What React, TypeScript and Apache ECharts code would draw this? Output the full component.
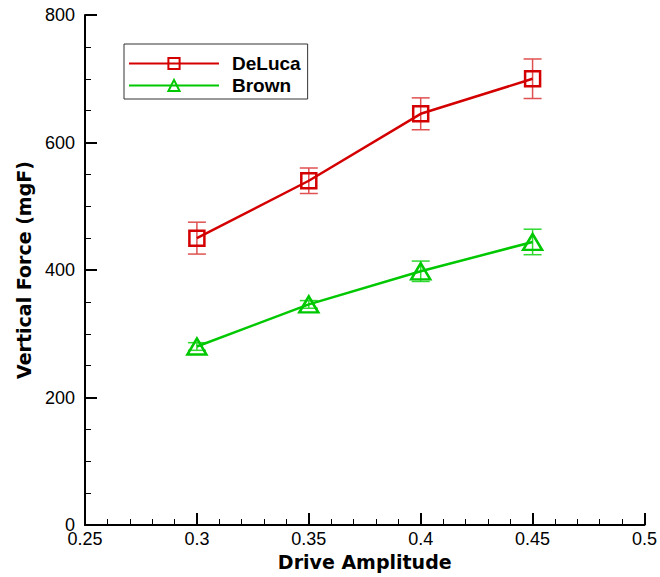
import React, { useEffect, useRef } from "react";
import * as echarts from "echarts";

const amplitudes = [0.3, 0.35, 0.4, 0.45];
const delucaForce = [450, 540, 645, 700];
const delucaErr = [25, 20, 25, 31];
const brownForce = [280, 346, 398, 444];
const brownErr = [6, 6, 16, 20];

const RED = "#d40000";
const GREEN = "#00c800";
const RED_ERR = "#e05050";
const GREEN_ERR = "#30d830";

const FONT = "'Liberation Sans', Arial, Helvetica, sans-serif";
const TITLE_FONT = "'DejaVu Sans', 'Liberation Sans', Arial, sans-serif";

function errData(vals: number[], errs: number[]) {
  return amplitudes.map((x, i) => [x, vals[i] - errs[i], vals[i] + errs[i]]);
}

function errSeries(name: string, vals: number[], errs: number[], color: string) {
  return {
    type: "custom",
    name,
    data: errData(vals, errs),
    z: 1,
    renderItem: (params: any, api: any) => {
      const x = api.value(0);
      const lo = api.coord([x, api.value(1)]);
      const hi = api.coord([x, api.value(2)]);
      const hw = 9;
      const style = { stroke: color, lineWidth: 1.5 };
      return {
        type: "group",
        children: [
          { type: "line", shape: { x1: lo[0], y1: lo[1], x2: hi[0], y2: hi[1] }, style },
          { type: "line", shape: { x1: lo[0] - hw, y1: lo[1], x2: lo[0] + hw, y2: lo[1] }, style },
          { type: "line", shape: { x1: hi[0] - hw, y1: hi[1], x2: hi[0] + hw, y2: hi[1] }, style },
        ],
      };
    },
  };
}

export default function App() {
  const ref = useRef<HTMLDivElement>(null);
  useEffect(() => {
    document.body.style.margin = "0";
    const chart = echarts.init(ref.current!, null, { renderer: "svg" });
    chart.setOption({
      animation: false,
      backgroundColor: "#ffffff",
      textStyle: { fontFamily: FONT },
      grid: { left: 85, right: 14, top: 15, bottom: 52 },
      legend: {
        data: ["DeLuca", "Brown"],
        orient: "vertical",
        left: 124,
        top: 44,
        itemWidth: 90,
        itemHeight: 14,
        itemGap: 3,
        padding: [10, 7, 4, 4],
        borderColor: "#333333",
        borderWidth: 1,
        textStyle: { fontFamily: FONT, fontWeight: "bold", fontSize: 19, color: "#000", padding: [0, 0, 0, 8] },
      },
      xAxis: {
        type: "value",
        min: 0.25,
        max: 0.5,
        interval: 0.05,
        name: "Drive Amplitude",
        nameLocation: "middle",
        nameGap: 27,
        nameTextStyle: { fontFamily: TITLE_FONT, fontWeight: "bold", fontSize: 19, color: "#000" },
        axisLine: { show: true, onZero: false, lineStyle: { color: "#000", width: 2 } },
        axisTick: { show: true, inside: true, length: 12, lineStyle: { color: "#000", width: 2 } },
        minorTick: { show: true, splitNumber: 5, length: 6, lineStyle: { color: "#000", width: 1 } },
        splitLine: { show: false },
        axisLabel: {
          fontFamily: FONT,
          fontSize: 18,
          color: "#000",
          margin: 5,
          formatter: (v: number) => String(Math.round(v * 100) / 100),
        },
      },
      yAxis: {
        type: "value",
        min: 0,
        max: 800,
        interval: 200,
        name: "Vertical Force (mgF)",
        nameLocation: "middle",
        nameGap: 52,
        nameTextStyle: { fontFamily: TITLE_FONT, fontWeight: "bold", fontSize: 19, color: "#000" },
        axisLine: { show: true, onZero: false, lineStyle: { color: "#000", width: 2 } },
        axisTick: { show: true, inside: true, length: 12, lineStyle: { color: "#000", width: 2 } },
        minorTick: { show: true, splitNumber: 4, length: 6, lineStyle: { color: "#000", width: 1 } },
        splitLine: { show: false },
        axisLabel: { fontFamily: FONT, fontSize: 18, color: "#000", margin: 10 },
      },
      series: [
        errSeries("DeLuca err", delucaForce, delucaErr, RED_ERR),
        errSeries("Brown err", brownForce, brownErr, GREEN_ERR),
        {
          type: "line",
          name: "DeLuca",
          data: amplitudes.map((x, i) => [x, delucaForce[i]]),
          symbol: "rect",
          symbolSize: 15,
          color: RED,
          lineStyle: { color: RED, width: 2.5 },
          itemStyle: { color: "rgba(255,255,255,0)", borderColor: RED, borderWidth: 2.5 },
          z: 3,
        },
        {
          type: "line",
          name: "Brown",
          data: amplitudes.map((x, i) => [x, brownForce[i]]),
          symbol: "triangle",
          symbolSize: [19, 16],
          color: GREEN,
          lineStyle: { color: GREEN, width: 2.5 },
          itemStyle: { color: "rgba(255,255,255,0)", borderColor: GREEN, borderWidth: 2.5 },
          z: 3,
        },
      ],
    });
    return () => chart.dispose();
  }, []);
  return <div ref={ref} style={{ width: 660, height: 577 }} />;
}
